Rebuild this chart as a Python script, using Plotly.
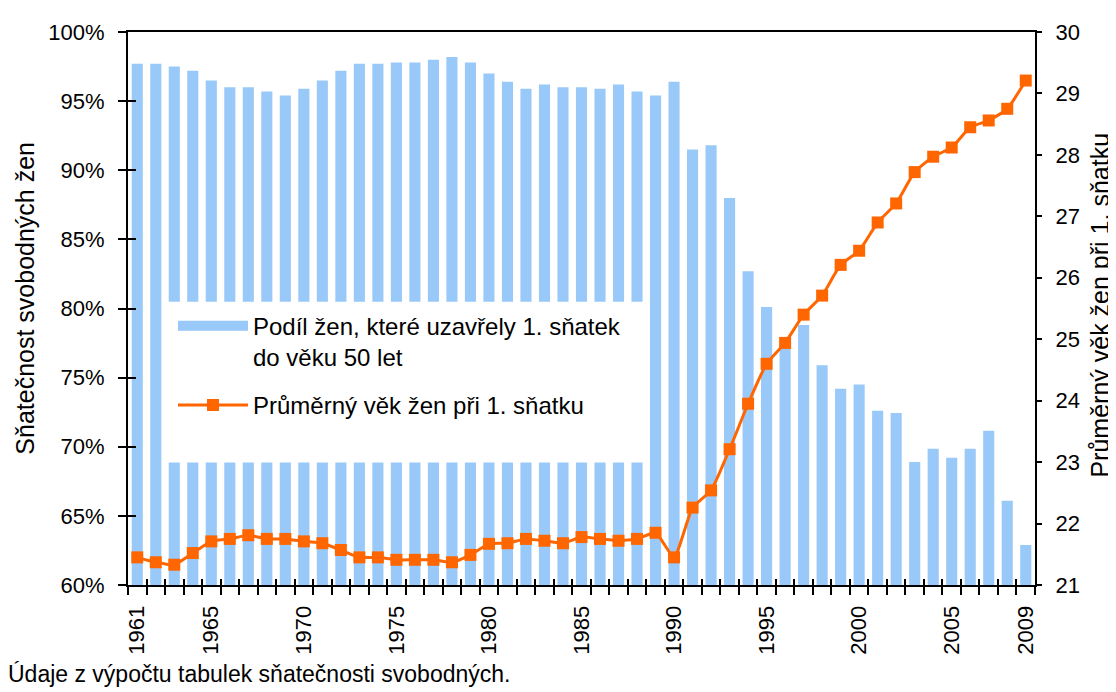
import plotly.graph_objects as go

years = list(range(1961, 2010))

share_married = [
    97.7, 97.7, 97.5, 97.2, 96.5, 96.0, 96.0, 95.7, 95.4, 95.9,
    96.5, 97.2, 97.7, 97.7, 97.8, 97.8, 98.0, 98.2, 97.8, 97.0,
    96.4, 95.9, 96.2, 96.0, 96.0, 95.9, 96.2, 95.7, 95.4, 96.4,
    91.5, 91.8, 88.0, 82.7, 80.1, 77.3, 78.8, 75.9, 74.2, 74.5,
    72.6, 72.45, 68.9, 69.85, 69.2, 69.85, 71.15, 66.1, 62.9,
]

mean_age = [
    21.45, 21.37, 21.33, 21.52, 21.71, 21.75, 21.81, 21.75, 21.75, 21.71,
    21.68, 21.57, 21.45, 21.45, 21.41, 21.41, 21.41, 21.37, 21.49, 21.67,
    21.68, 21.75, 21.72, 21.68, 21.78, 21.75, 21.72, 21.75, 21.85, 21.45,
    22.26, 22.54, 23.21, 23.95, 24.60, 24.94, 25.40, 25.71, 26.21, 26.44,
    26.90, 27.21, 27.72, 27.97, 28.12, 28.45, 28.56, 28.75, 29.21,
]

label_years = [1961, 1965, 1970, 1975, 1980, 1985, 1990, 1995, 2000, 2005, 2009]
left_ticks = [60, 65, 70, 75, 80, 85, 90, 95, 100]
left_ticktext = [f"{v}%" for v in left_ticks]
right_ticks = list(range(21, 31))

name_bar = "Podíl žen, které uzavřely 1. sňatek<br>do věku 50 let"
name_line = "Průměrný věk žen při 1. sňatku"
left_title = "Sňatečnost svobodných žen"
right_title = "Průměrný věk žen při 1. sňatku"
footer = "Údaje z výpočtu tabulek sňatečnosti svobodných."

BAR_COLOR = "#99C9F8"
LINE_COLOR = "#FF6600"
FONT = "Liberation Sans, Arial, sans-serif"

# the page body adds an 8px margin; the figure is sized so the whole page is 1116x692
OFF = 8
W, H = 1116 - OFF, 692 - OFF
L, T, PW, PH = 128 - OFF, 21 - OFF, 907, 564
R = W - L - PW
B = H - T - PH


def px(xp):  # page x -> paper fraction
    return (xp - 128) / PW


def py(yp):  # page y -> paper fraction
    return (585 - yp) / PH


x_range = [years[0] - 0.5, years[-1] + 0.5]
boundaries = [y - 0.5 for y in years] + [years[-1] + 0.5]

fig = go.Figure()

fig.add_trace(go.Bar(
    x=years, y=share_married, name=name_bar, width=0.6,
    marker=dict(color=BAR_COLOR, line=dict(width=0)),
    showlegend=False, yaxis="y", legendgroup="a",
))

# legend swatch for the bars (wide rectangle like the original)
fig.add_trace(go.Scatter(
    x=[None], y=[None], mode="lines", name=name_bar,
    line=dict(color=BAR_COLOR, width=10), legendgroup="a",
))

fig.add_trace(go.Scatter(
    x=years, y=mean_age, name=name_line, yaxis="y2", mode="lines+markers",
    line=dict(color=LINE_COLOR, width=3, shape="spline", smoothing=0.5),
    marker=dict(symbol="square", size=12, color=LINE_COLOR),
    legendgroup="b",
))

# helper trace for the inner half of the crossing tick marks
fig.add_trace(go.Scatter(x=[None], y=[None], xaxis="x3", yaxis="y3",
                         showlegend=False, hoverinfo="skip"))

axis_common = dict(showgrid=False, zeroline=False, linecolor="black",
                   linewidth=2, tickcolor="black", tickwidth=2,
                   tickfont=dict(family=FONT, size=22, color="black"))

fig.update_layout(
    width=W, height=H,
    margin=dict(l=L, r=R, t=T, b=B),
    paper_bgcolor="white", plot_bgcolor="white",
    font=dict(family=FONT, size=22, color="black"),
    bargap=0.4,
    xaxis=dict(
        **axis_common, range=x_range, showline=True, mirror=True,
        tickmode="array", tickvals=label_years,
        ticktext=[str(y) for y in label_years],
        ticks="", tickangle=-90, ticklabelstandoff=10,
        minor=dict(tickmode="array", tickvals=boundaries, ticks="outside",
                   ticklen=8, tickwidth=2, tickcolor="black", showgrid=False),
    ),
    xaxis3=dict(
        range=x_range, overlaying="x", anchor="y3", showgrid=False,
        zeroline=False, showline=False, showticklabels=False,
        tickmode="array", tickvals=boundaries, ticks="inside",
        ticklen=6, tickwidth=2, tickcolor="black",
    ),
    yaxis=dict(
        **axis_common, range=[60, 100], showline=True,
        tickmode="array", tickvals=left_ticks, ticktext=left_ticktext,
        ticks="outside", ticklen=8, ticklabelstandoff=9,
    ),
    yaxis3=dict(
        range=[60, 100], overlaying="y", anchor="x3", side="left",
        showgrid=False, zeroline=False, showline=False, showticklabels=False,
        tickmode="array", tickvals=left_ticks, ticks="inside",
        ticklen=8, tickwidth=2, tickcolor="black",
    ),
    yaxis2=dict(
        **axis_common, range=[21, 30], overlaying="y", side="right",
        showline=True, tickmode="array", tickvals=right_ticks,
        ticks="outside", ticklen=5, ticklabelstandoff=9,
    ),
    yaxis4=dict(
        range=[21, 30], overlaying="y", anchor="x", side="right",
        showgrid=False, zeroline=False, showline=False, showticklabels=False,
        tickmode="array", tickvals=right_ticks, ticks="inside",
        ticklen=7, tickwidth=2, tickcolor="black",
    ),
    legend=dict(
        x=px(173), y=py(298), xanchor="left", yanchor="top",
        bgcolor="rgba(0,0,0,0)", borderwidth=0, itemwidth=70, valign="top",
        font=dict(family=FONT, size=24, color="black"),
        traceorder="grouped", tracegroupgap=14,
    ),
    shapes=[dict(
        type="rect", xref="paper", yref="paper", layer="above",
        x0=px(163), x1=px(645), y0=py(460), y1=py(296),
        fillcolor="white", line=dict(width=0),
    )],
    annotations=[
        dict(text=left_title, xref="paper", yref="paper",
             x=px(25), y=py(293), textangle=-90,
             showarrow=False, xanchor="center", yanchor="middle",
             font=dict(family=FONT, size=25, color="black")),
        dict(text=right_title, xref="paper", yref="paper",
             x=px(1100), y=py(300), textangle=-90,
             showarrow=False, xanchor="center", yanchor="middle",
             font=dict(family=FONT, size=25, color="black")),
        dict(text=footer, xref="paper", yref="paper",
             x=px(6), y=py(676), xanchor="left",
             yanchor="middle", showarrow=False,
             font=dict(family=FONT, size=23, color="black")),
    ],
)

fig.write_html("out.html")
